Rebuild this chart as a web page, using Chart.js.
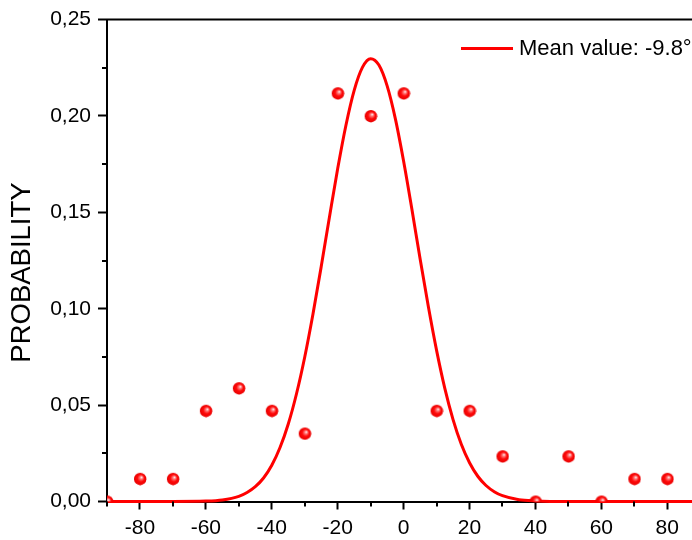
<!DOCTYPE html>
<html>
<head>
<meta charset="utf-8">
<script src="https://cdn.jsdelivr.net/npm/chart.js@4.4.1/dist/chart.umd.min.js"></script>
<style>
  html, body { margin: 0; padding: 0; background: #ffffff; }
  #wrap { width: 692px; height: 540px; }
</style>
</head>
<body>
<div id="wrap"><canvas id="c" width="692" height="540"></canvas></div>
<script>
// ---- data ----
const angles = [-90, -80, -70, -60, -50, -40, -30, -20, -10, 0, 10, 20, 30, 40, 50, 60, 70, 80];
const probabilities = [0, 0.0118, 0.0118, 0.0471, 0.0588, 0.0471, 0.0353, 0.2118, 0.2000, 0.2118,
                       0.0471, 0.0471, 0.0235, 0, 0.0235, 0, 0.0118, 0.0118];

const fitX = [-90, -70, -60, -55, -50, -47.5, -45, -42.5, -40, -37.5, -35, -32.5, -30, -27.5, -25,
              -22.5, -20, -17.5, -15, -12.5, -10, -7.5, -5, -2.5, 0, 2.5, 5, 7.5, 10, 12.5, 15,
              17.5, 20, 22.5, 25, 27.5, 30, 35, 40, 50, 88];
const fitY = [0, 0, 0.0002, 0.0008, 0.0027, 0.0047, 0.0077, 0.0122, 0.0188, 0.0280, 0.0402, 0.0559,
              0.0750, 0.0973, 0.1219, 0.1476, 0.1727, 0.1952, 0.2133, 0.2252, 0.2297, 0.2264, 0.2156,
              0.1985, 0.1765, 0.1517, 0.1259, 0.1011, 0.0784, 0.0587, 0.0425, 0.0297, 0.0201, 0.0131,
              0.0083, 0.0051, 0.0030, 0.0009, 0.0003, 0, 0];

const fitLabel = 'Mean value: -9.8\u00B0';
const yTitle = 'PROBABILITY';

const xMajorTicks = [-80, -60, -40, -20, 0, 20, 40, 60, 80];
const xTickLabels = ['-80', '-60', '-40', '-20', '0', '20', '40', '60', '80'];
const xMinorTicks = [-90, -70, -50, -30, -10, 10, 30, 50, 70];
const yMajorTicks = [0, 0.05, 0.10, 0.15, 0.20, 0.25];
const yTickLabels = ['0,00', '0,05', '0,10', '0,15', '0,20', '0,25'];
const yMinorTicks = [0.025, 0.075, 0.125, 0.175, 0.225];

// ---- sphere marker ----
function makeSphere(r) {
  const s = 2 * r + 2;
  const c = document.createElement('canvas');
  c.width = s; c.height = s;
  const g = c.getContext('2d');
  const cx = s / 2, cy = s / 2;
  const grad = g.createRadialGradient(cx + 1.5, cy - 1.8, 0.2, cx, cy, r);
  grad.addColorStop(0, '#fff0f0');
  grad.addColorStop(0.22, '#ff7878');
  grad.addColorStop(0.55, '#ff0a0a');
  grad.addColorStop(1, '#e80000');
  g.fillStyle = grad;
  g.beginPath(); g.arc(cx, cy, r, 0, Math.PI * 2); g.fill();
  return c;
}
const sphere = makeSphere(6.2);

const FONT = "'Liberation Sans', Arial, sans-serif";

// ---- plugins: minor ticks, top frame line, y title, inside legend ----
const framePlugin = {
  id: 'frame',
  afterDatasetsDraw(chart) {
    const { ctx, chartArea, scales } = chart;
    ctx.save();
    ctx.strokeStyle = '#000';
    ctx.lineWidth = 2;
    ctx.beginPath();
    ctx.moveTo(chartArea.left - 1, chartArea.top);
    ctx.lineTo(chart.width, chartArea.top);
    ctx.stroke();
    ctx.beginPath();
    yMinorTicks.forEach(v => {
      const y = Math.round(scales.y.getPixelForValue(v));
      ctx.moveTo(chartArea.left - 5, y);
      ctx.lineTo(chartArea.left, y);
    });
    xMinorTicks.forEach(v => {
      const x = Math.round(scales.x.getPixelForValue(v));
      ctx.moveTo(x, chartArea.bottom);
      ctx.lineTo(x, chartArea.bottom + 5);
    });
    ctx.stroke();
    ctx.restore();
  }
};

const titlePlugin = {
  id: 'yTitle',
  afterDraw(chart) {
    const { ctx, chartArea } = chart;
    const cy = (chartArea.top + chartArea.bottom) / 2 + 12;
    ctx.save();
    ctx.translate(22, cy);
    ctx.rotate(-Math.PI / 2);
    ctx.fillStyle = '#000';
    ctx.font = '27.5px ' + FONT;
    ctx.textAlign = 'center';
    ctx.textBaseline = 'middle';
    ctx.fillText(yTitle, 0, 0);
    ctx.restore();
  }
};

const legendPlugin = {
  id: 'insideLegend',
  afterDraw(chart) {
    const { ctx, chartArea } = chart;
    const ds = chart.data.datasets[1];
    const y = chartArea.top + 29;
    const x0 = chartArea.right - 231;
    ctx.save();
    ctx.strokeStyle = ds.borderColor;
    ctx.lineWidth = 3;
    ctx.beginPath();
    ctx.moveTo(x0, y);
    ctx.lineTo(x0 + 52, y);
    ctx.stroke();
    ctx.fillStyle = '#000';
    ctx.font = '22px ' + FONT;
    ctx.textBaseline = 'middle';
    ctx.textAlign = 'left';
    ctx.fillText(ds.label, x0 + 58, y);
    ctx.restore();
  }
};

new Chart(document.getElementById('c'), {
  type: 'scatter',
  data: {
    datasets: [
      {
        type: 'scatter',
        label: 'data',
        data: angles.map((a, i) => ({ x: a, y: probabilities[i] })),
        pointStyle: sphere,
        pointRadius: 6,
        order: 0,
        clip: 0
      },
      {
        type: 'line',
        label: fitLabel,
        data: fitX.map((a, i) => ({ x: a, y: fitY[i] })),
        borderColor: '#ff0000',
        backgroundColor: '#ff0000',
        borderWidth: 3,
        pointRadius: 0,
        fill: false,
        cubicInterpolationMode: 'monotone',
        order: 1,
        clip: false
      }
    ]
  },
  options: {
    responsive: false,
    animation: false,
    layout: { autoPadding: false, padding: { top: 18, right: 0, bottom: 0, left: 0 } },
    plugins: {
      legend: { display: false },
      tooltip: { enabled: false }
    },
    scales: {
      x: {
        type: 'linear',
        min: -90,
        max: 87.5,
        afterBuildTicks: s => { s.ticks = xMajorTicks.map(v => ({ value: v })); },
        afterFit: s => { s.height = 38.5; },
        ticks: {
          color: '#000',
          font: { family: FONT, size: 21 },
          padding: 6,
          maxRotation: 0,
          autoSkip: false,
          callback: (v) => xTickLabels[xMajorTicks.indexOf(v)]
        },
        grid: { drawOnChartArea: false, drawTicks: true, tickLength: 8, tickWidth: 2, tickColor: '#000' },
        border: { display: true, color: '#000', width: 2 }
      },
      y: {
        min: 0,
        max: 0.25,
        afterBuildTicks: s => { s.ticks = yMajorTicks.map(v => ({ value: v })); },
        afterFit: s => { s.width = 107; },
        ticks: {
          color: '#000',
          font: { family: FONT, size: 21 },
          padding: 7,
          autoSkip: false,
          callback: (v) => yTickLabels[yMajorTicks.findIndex(t => Math.abs(t - v) < 1e-9)]
        },
        title: { display: false },
        grid: { drawOnChartArea: false, drawTicks: true, tickLength: 9, tickWidth: 2, tickColor: '#000' },
        border: { display: true, color: '#000', width: 2 }
      }
    }
  },
  plugins: [framePlugin, titlePlugin, legendPlugin]
});
</script>
</body>
</html>
